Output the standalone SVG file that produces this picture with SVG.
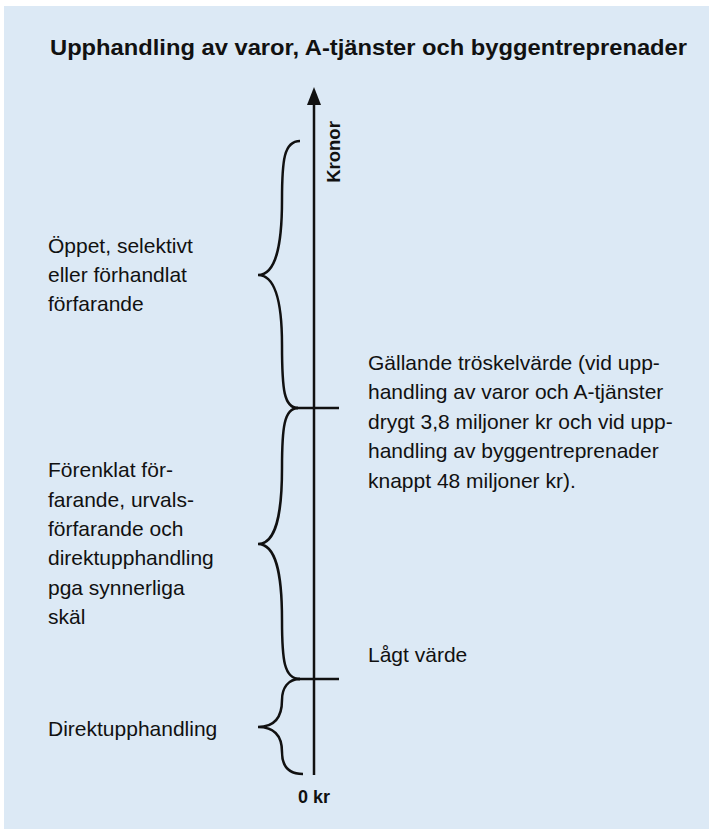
<svg xmlns="http://www.w3.org/2000/svg" width="709" height="829" viewBox="0 0 709 829">
<defs>
<style>
.t{font-family:"Liberation Sans",Arial,sans-serif;font-size:21px;fill:#111}
.b{font-family:"Liberation Sans",Arial,sans-serif;font-weight:bold;fill:#111}
.ln{stroke:#111;stroke-width:2.5;fill:none}
</style>
</defs>
<rect x="4" y="6" width="705" height="823" fill="#dce9f5"/>
<text id="title" class="b" x="50" y="55" font-size="21.5" textLength="637" lengthAdjust="spacingAndGlyphs">Upphandling av varor, A-tjänster och byggentreprenader</text>
<g id="connectors">
<path id="axis" d="M314,775 L314,104" class="ln"/>
<path d="M314,87 L307,105 L321,105 Z" fill="#111"/>
<line x1="293" y1="408" x2="339" y2="408" class="ln"/>
<line x1="295" y1="679" x2="339" y2="679" class="ln"/>
</g>
<g id="brace1">
<path class="ln" d="M300,141 C284,141 282,160 282,200 C282,245 276,275 258,275 C276,275 282,305 282,345 C282,390 284,408 298,408"/>
</g>
<g id="brace2">
<path class="ln" d="M298,408 C284,408 282,428 282,468 C282,515 276,544 258,544 C276,544 282,573 282,620 C282,660 284,679 300,679"/>
</g>
<g id="brace3">
<path class="ln" d="M300,679 C288,679 282,688 282,700 C282,716 276,727 258,727 C276,727 282,738 282,752 C282,765 288,774 303,774"/>
</g>
<g id="kronor"><text class="b" font-size="18.5" transform="translate(340,152) rotate(-90)" text-anchor="middle">Kronor</text></g>
<g id="label1"><text class="t" x="48" y="253">Öppet, selektivt</text><text class="t" x="48" y="282">eller förhandlat</text><text class="t" x="48" y="311">förfarande</text></g>
<g id="label2"><text class="t" x="48" y="477">Förenklat för-</text><text class="t" x="48" y="507">farande, urvals-</text><text class="t" x="48" y="536">förfarande och</text><text class="t" x="48" y="565">direktupphandling</text><text class="t" x="48" y="595">pga synnerliga</text><text class="t" x="48" y="624">skäl</text></g>
<g id="label3"><text class="t" x="48" y="736">Direktupphandling</text></g>
<g id="threshold"><text class="t" x="368" y="370">Gällande tröskelvärde (vid upp-</text><text class="t" x="368" y="399">handling av varor och A-tjänster</text><text class="t" x="368" y="429">drygt 3,8 miljoner kr och vid upp-</text><text class="t" x="368" y="458">handling av byggentreprenader</text><text class="t" x="368" y="488">knappt 48 miljoner kr).</text></g>
<g id="low"><text class="t" x="368" y="662">Lågt värde</text></g>
<g id="zero"><text class="b" font-size="18" x="314" y="803" text-anchor="middle">0 kr</text></g>
</svg>
